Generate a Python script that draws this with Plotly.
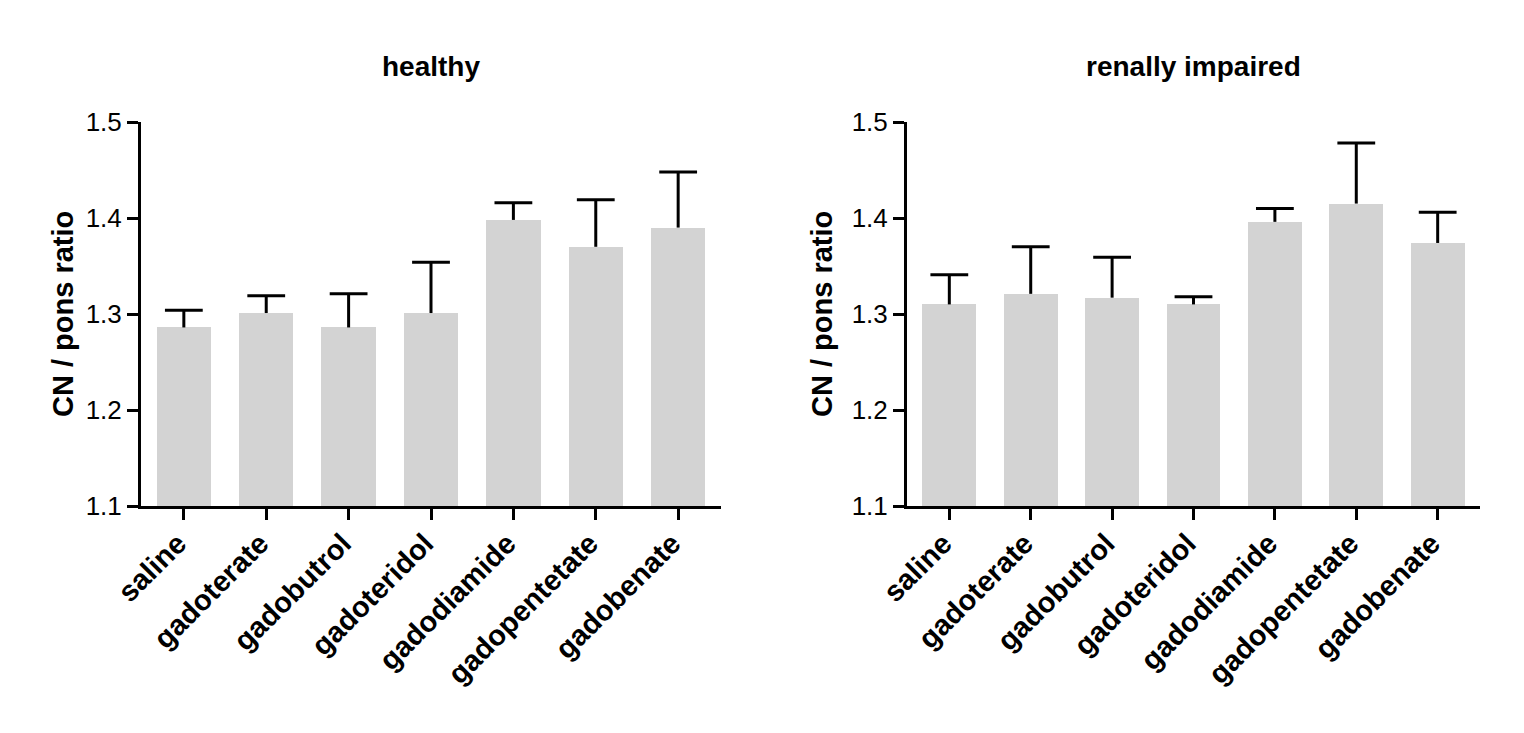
import plotly.graph_objects as go

categories = ["saline", "gadoterate", "gadobutrol", "gadoteridol",
              "gadodiamide", "gadopentetate", "gadobenate"]
healthy_mean = [1.286, 1.301, 1.286, 1.301, 1.398, 1.370, 1.390]
healthy_upper = [1.304, 1.319, 1.321, 1.354, 1.416, 1.419, 1.448]
renal_mean = [1.310, 1.321, 1.317, 1.310, 1.396, 1.415, 1.374]
renal_upper = [1.341, 1.370, 1.359, 1.318, 1.410, 1.478, 1.406]
yticks = [1.1, 1.2, 1.3, 1.4, 1.5]
titles = ["healthy", "renally impaired"]
ytitle = "CN / pons ratio"

FONT = "Liberation Sans, Arial, sans-serif"
BAR = "#d3d3d3"
W, H = 1524, 733
OFF = 8  # page body margin

def px(v):
    return (v - OFF) / W

def py(v):
    return 1 - (v - OFF) / H

fig = go.Figure()
panels = [(healthy_mean, healthy_upper, "x", "y"), (renal_mean, renal_upper, "x2", "y2")]
for mean, upper, xa, ya in panels:
    fig.add_trace(go.Bar(x=categories, y=mean, width=0.66, marker=dict(color=BAR, line=dict(width=0)),
                         xaxis=xa, yaxis=ya, showlegend=False, base=0, hoverinfo="skip"))
    fig.add_trace(go.Scatter(
        x=categories, y=upper, mode="markers", xaxis=xa, yaxis=ya, showlegend=False,
        marker=dict(symbol="line-ew-open", size=27, color="black", line=dict(width=3, color="black")),
        error_y=dict(type="data", symmetric=False, array=[0] * len(upper),
                     arrayminus=[u - m for u, m in zip(upper, mean)],
                     width=0, thickness=3, color="black")))

ydom = [py(506), py(122)]
xdoms = [[px(141), px(721)], [px(907), px(1480)]]

common_x = dict(type="category", range=[-0.52, 6.52], showline=True, linecolor="black", linewidth=3,
                ticks="outside", ticklen=11, tickwidth=3, tickcolor="black", tickangle=-45,
                tickfont=dict(family=FONT, size=29, color="black", weight="bold"),
                ticklabelshift=-6, ticklabelstandoff=-5,
                showgrid=False, zeroline=False, fixedrange=True, automargin=False)
common_y = dict(range=[1.1, 1.5], tickvals=yticks, ticktext=[f"{v:.1f}" for v in yticks],
                showline=True, linecolor="black", linewidth=3, ticks="outside", ticklen=11,
                tickwidth=3, tickcolor="black", tickfont=dict(family=FONT, size=26, color="black"),
                showgrid=False, zeroline=False, fixedrange=True, automargin=False)

fig.update_layout(
    template="none",
    width=W, height=H, margin=dict(l=0, r=0, t=0, b=0, pad=0, autoexpand=False),
    paper_bgcolor="white", plot_bgcolor="white", bargap=0, showlegend=False,
    xaxis=dict(domain=xdoms[0], anchor="y", **common_x),
    xaxis2=dict(domain=xdoms[1], anchor="y2", **common_x),
    yaxis=dict(domain=ydom, anchor="x", **common_y),
    yaxis2=dict(domain=ydom, anchor="x2", **common_y),
)

ytitle_x = [63, 822]
annos = []
for i, t in enumerate(titles):
    cx = (xdoms[i][0] + xdoms[i][1]) / 2
    annos.append(dict(text=f"<b>{t}</b>", x=cx, y=py(66), xref="paper", yref="paper",
                      showarrow=False, font=dict(family=FONT, size=28, color="black"),
                      xanchor="center", yanchor="middle"))
    annos.append(dict(text=f"<b>{ytitle}</b>", x=px(ytitle_x[i]), y=py(314),
                      xref="paper", yref="paper", showarrow=False, textangle=-90,
                      font=dict(family=FONT, size=29, color="black"),
                      xanchor="center", yanchor="middle"))
fig.update_layout(annotations=annos)

fig.write_html("out.html", config={"displayModeBar": False})
